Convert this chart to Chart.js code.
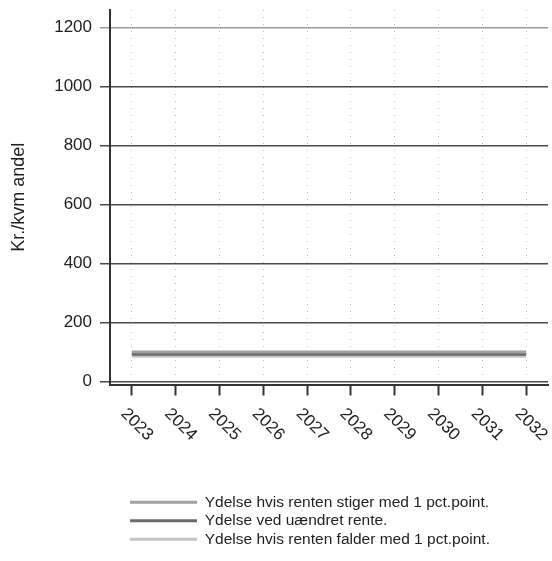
<!DOCTYPE html>
<html lang="da">
<head>
  <meta charset="UTF-8"/>
  <title>Ydelse pr. kvm andel</title>
  <script src="https://cdn.jsdelivr.net/npm/chart.js"></script>
  <style>
    * { box-sizing: border-box; margin: 0; padding: 0; }
    html, body { width: 552px; height: 561px; background: #fff; overflow: hidden; }
    #wrap { position: relative; width: 552px; height: 561px; }
  </style>
</head>
<body>
  <div id="wrap">
    <canvas id="ydelseChart"></canvas>
  </div>

  <script>
    // data
    const years = ['2023', '2024', '2025', '2026', '2027', '2028', '2029', '2030', '2031', '2032'];
    const ydelseStiger = [100, 100, 100, 100, 100, 100, 100, 100, 100, 100];
    const ydelseUaendret = [93, 93, 93, 93, 93, 93, 93, 93, 93, 93];
    const ydelseFalder = [86, 86, 86, 86, 86, 86, 86, 86, 86, 86];
    const yTicks = [0, 200, 400, 600, 800, 1000, 1200];

    const fontFamily = "'Liberation Sans', Arial, sans-serif";

    // x labels slope down to the right, which Chart.js can't do by itself
    const slantedLabels = {
      id: 'slantedLabels',
      afterDraw(chart) {
        const xs = chart.scales.x;
        const ctx = chart.ctx;
        ctx.save();
        ctx.font = '17px ' + fontFamily;
        ctx.fillStyle = '#222';
        ctx.textAlign = 'center';
        ctx.textBaseline = 'middle';
        years.forEach((label, i) => {
          const x = xs.getPixelForTick(i);
          ctx.save();
          ctx.translate(x + 5, xs.top + 40);
          ctx.rotate(Math.PI / 4);
          ctx.fillText(label, 0, 0);
          ctx.restore();
        });
        ctx.restore();
      }
    };

    // push the legend rows right so they line up under the plot
    const legendShift = {
      id: 'legendShift',
      afterLayout(chart) {
        chart.legend.left = 127;
      }
    };

    const ctx = document.getElementById('ydelseChart').getContext('2d');
    new Chart(ctx, {
      type: 'line',
      data: {
        labels: years,
        datasets: [
          {
            label: 'Ydelse hvis renten stiger med 1 pct.point.',
            data: ydelseStiger,
            borderColor: '#a0a0a0',
            backgroundColor: '#a0a0a0',
            borderWidth: 3,
            pointRadius: 0
          },
          {
            label: 'Ydelse ved uændret rente.',
            data: ydelseUaendret,
            borderColor: '#6a6a6a',
            backgroundColor: '#6a6a6a',
            borderWidth: 3,
            pointRadius: 0
          },
          {
            label: 'Ydelse hvis renten falder med 1 pct.point.',
            data: ydelseFalder,
            borderColor: '#c4c4c4',
            backgroundColor: '#c4c4c4',
            borderWidth: 3,
            pointRadius: 0
          }
        ]
      },
      options: {
        responsive: true,
        maintainAspectRatio: false,
        animation: false,
        layout: { padding: { top: 10, right: 4, left: 8, bottom: 4 } },
        scales: {
          x: {
            offset: true,
            ticks: { display: false },
            grid: {
              color: '#bdbdbd',
              lineWidth: 1,
              tickColor: '#333',
              tickWidth: 2,
              tickLength: 11,
              offset: false
            },
            border: { color: '#333', width: 2, dash: [1, 6] },
            afterFit: (scale) => { scale.height = 107; }
          },
          y: {
            min: -10,
            max: 1260,
            afterBuildTicks: (scale) => {
              scale.ticks = yTicks.map(v => ({ value: v }));
            },
            ticks: {
              color: '#222',
              padding: 8,
              font: { family: fontFamily, size: 17 },
              callback: (v) => String(v)
            },
            grid: {
              color: (c) => (c.tick && c.tick.value === 1200 ? '#9a9a9a' : '#4a4a4a'),
              lineWidth: 1.5,
              tickLength: 10
            },
            border: { color: '#333', width: 2 },
            title: {
              display: true,
              text: 'Kr./kvm andel',
              color: '#222',
              font: { family: fontFamily, size: 18 },
              padding: { top: 0, bottom: 8 }
            },
            afterFit: (scale) => {
              scale.width = 102;
              scale.paddingTop = 0;
            }
          }
        },
        plugins: {
          legend: {
            position: 'bottom',
            align: 'start',
            labels: {
              usePointStyle: true,
              pointStyle: 'line',
              pointStyleWidth: 67,
              color: '#222',
              padding: 3,
              font: { family: fontFamily, size: 15.5 }
            }
          },
          tooltip: { enabled: false }
        }
      },
      plugins: [slantedLabels, legendShift]
    });
  </script>
</body>
</html>
